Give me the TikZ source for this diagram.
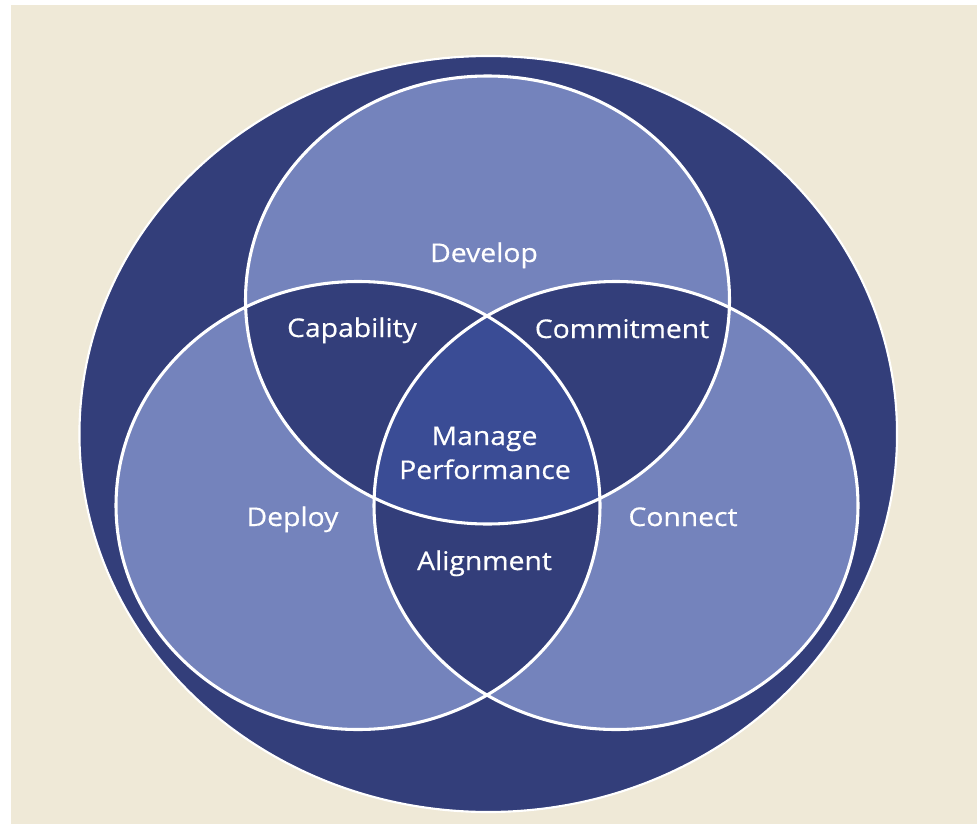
\documentclass[tikz,border=0pt]{standalone}
\usepackage{fontspec}
\setmainfont{Open Sans}[FakeStretch=1.1,FakeBold=0.5]
\definecolor{paper}{HTML}{EFE9D7}
\definecolor{navy}{HTML}{333E7A}
\definecolor{lilac}{HTML}{7483BC}
\definecolor{core}{HTML}{3A4C95}
\begin{document}
\begin{tikzpicture}[x=0.75pt,y=-0.75pt,
  ring/.style={draw=white,line width=2.3pt},
  label/.style={text=white,anchor=base,inner sep=0pt,
    font=\fontsize{19.3pt}{25.5pt}\selectfont}]
  % page and backdrop
  \useasboundingbox (0,0) rectangle (977,824);
  \fill[white] (0,0) rectangle (977,824);
  \fill[paper] (11,5) rectangle (977,824);
  % centres of the shapes
  \coordinate (o) at (488.25,434);
  \coordinate (t) at (487.5,300);
  \coordinate (l) at (358,505.5);
  \coordinate (r) at (616,505.5);
  \def\topc{(t) ellipse [x radius=181.5pt, y radius=168pt]}
  \def\leftc{(l) ellipse [x radius=181.5pt, y radius=168pt]}
  \def\rightc{(r) ellipse [x radius=181.5pt, y radius=168pt]}
  % outer ellipse
  \filldraw[fill=navy,draw=white,line width=1.6pt]
    (o) ellipse [x radius=306.6pt, y radius=283.5pt];
  % the three circles
  \fill[lilac] \topc;
  \fill[lilac] \leftc;
  \fill[lilac] \rightc;
  % pairwise overlaps
  \begin{scope}\clip \topc; \fill[navy] \leftc; \fill[navy] \rightc;\end{scope}
  \begin{scope}\clip \leftc; \fill[navy] \rightc;\end{scope}
  % common overlap
  \begin{scope}\clip \topc; \clip \leftc; \fill[core] \rightc;\end{scope}
  % outlines
  \draw[ring] \topc;
  \draw[ring] \leftc;
  \draw[ring] \rightc;
  % labels
  \node[label] (develop) at (484,262) {Develop};
  \node[label] (capability) at (352,337) {Capability};
  \node[label] (commitment) at (622,338) {Commitment};
  \node[label] (manage) at (484.5,445) {Manage};
  \node[label] (performance) at (485,479) {Performance};
  \node[label] (deploy) at (292.5,526) {Deploy};
  \node[label] (connect) at (683,526) {Connect};
  \node[label] (alignment) at (484.5,570) {Alignment};
\end{tikzpicture}
\end{document}
